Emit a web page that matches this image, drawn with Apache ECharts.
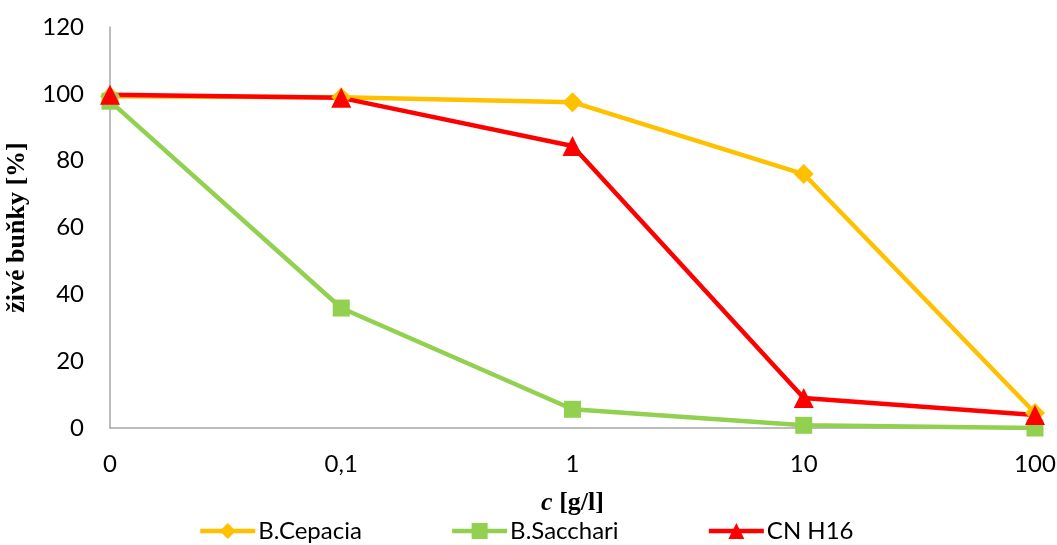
<!DOCTYPE html>
<html>
<head>
<meta charset="utf-8">
<script src="https://cdn.jsdelivr.net/npm/echarts@6/dist/echarts.min.js"></script>
<style>
  html, body { margin: 0; padding: 0; background: #fff; }
  #chart { width: 1057px; height: 545px; }
</style>
</head>
<body>
<div id="chart"></div>
<script>
// Concentration categories (g/l) and surviving cell percentages per strain
const categories = ['0', '0,1', '1', '10', '100'];
const cepacia = [99.3, 99, 97.5, 76, 4.5];
const sacchari = [97.8, 35.9, 5.6, 0.8, 0];
const cnH16 = [99.7, 98.8, 84.4, 9, 3.9];
const yTicks = { min: 0, max: 120, interval: 20 };

const tickFont = { fontFamily: 'Lato', fontSize: 24, color: '#000' };
const titleFont = { fontFamily: 'Liberation Serif', fontWeight: 'bold', fontSize: 26, color: '#000' };

const chart = echarts.init(document.getElementById('chart'), null, { renderer: 'canvas' });

function lineSeries(name, data, color, symbol, size) {
  return {
    name, type: 'line', data,
    symbol, symbolSize: size,
    lineStyle: { color, width: 4.5 },
    itemStyle: { color },
    emphasis: { disabled: true },
    animation: false
  };
}

chart.setOption({
  animation: false,
  grid: { left: 110, right: 22, top: 27, bottom: 117, outerBoundsMode: 'none', containLabel: false },
  legend: {
    bottom: -3,
    left: 193,
    itemWidth: 55,
    itemHeight: 20,
    itemGap: 88,
    lineStyle: { width: 4.5 },
    textStyle: { fontFamily: 'Lato', fontSize: 24, color: '#000', padding: [0, 0, 0, -2] },
    data: ['B.Cepacia', 'B.Sacchari', 'CN H16']
  },
  xAxis: {
    type: 'category',
    data: categories,
    boundaryGap: false,
    axisLine: { lineStyle: { color: '#a6a6a6', width: 1.5 } },
    axisTick: { show: false },
    axisLabel: Object.assign({ margin: 24 }, tickFont),
    name: '{i|c} [g/l]',
    nameLocation: 'middle',
    nameGap: 62,
    nameTextStyle: Object.assign({}, titleFont, {
      rich: { i: Object.assign({}, titleFont, { fontStyle: 'italic' }) }
    })
  },
  yAxis: {
    type: 'value',
    min: yTicks.min, max: yTicks.max, interval: yTicks.interval,
    splitLine: { show: false },
    axisLine: { show: true, lineStyle: { color: '#a6a6a6', width: 1.5 } },
    axisTick: { show: false },
    axisLabel: Object.assign({ margin: 26 }, tickFont),
    name: 'živé buňky [%]',
    nameLocation: 'middle',
    nameRotate: 90,
    nameGap: 80,
    nameTextStyle: titleFont
  },
  series: [
    lineSeries('B.Cepacia', cepacia, '#FFC000', 'diamond', 20),
    lineSeries('B.Sacchari', sacchari, '#92D050', 'rect', 17),
    lineSeries('CN H16', cnH16, '#FF0000', 'triangle', 20)
  ]
});
</script>
</body>
</html>
